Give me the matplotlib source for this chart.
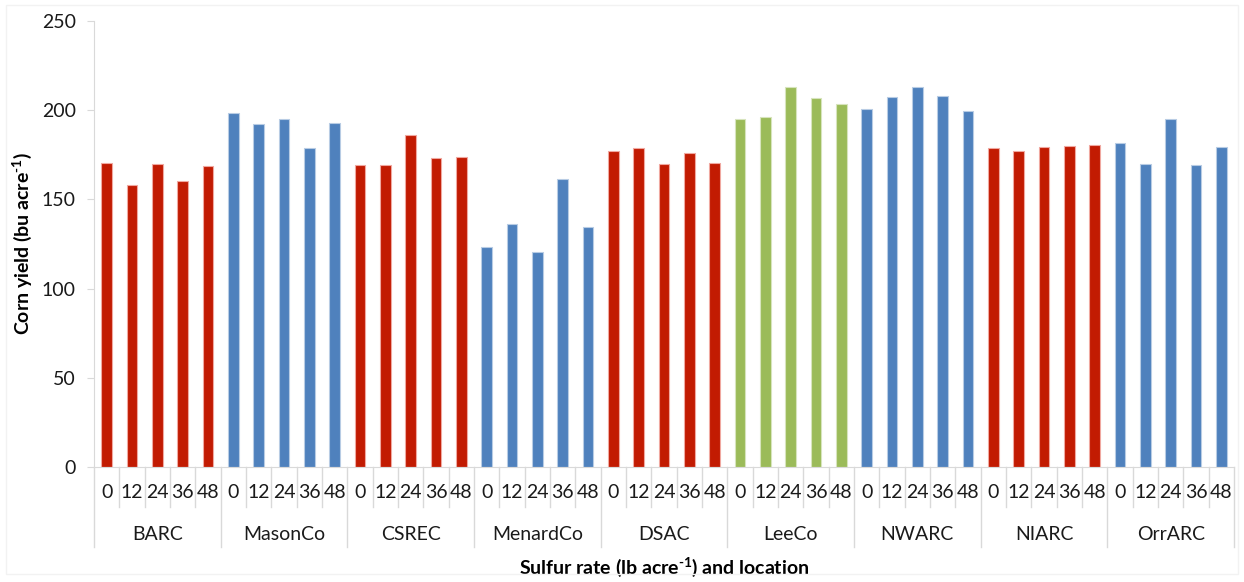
import numpy as np
import matplotlib.pyplot as plt
from matplotlib.patches import Rectangle

plt.rcParams['font.family'] = ['Lato', 'DejaVu Sans']
plt.rcParams['mathtext.fontset'] = 'custom'
plt.rcParams['mathtext.rm'] = 'Lato:bold'
plt.rcParams['mathtext.bf'] = 'Lato:bold'
plt.rcParams['mathtext.default'] = 'rm'

# Standorte, S-Raten und Ertraege (bu/acre)
standorte = ['BARC', 'MasonCo', 'CSREC', 'MenardCo', 'DSAC', 'LeeCo', 'NWARC', 'NIARC', 'OrrARC']
raten = ['0', '12', '24', '36', '48']
farben = ['rot', 'blau', 'rot', 'blau', 'rot', 'gruen', 'blau', 'rot', 'blau']

BARC = [170.6, 157.9, 169.8, 160.1, 168.7]
MasonCo = [198.2, 192.3, 195.1, 178.8, 192.8]
CSREC = [169.5, 169.5, 185.9, 173.0, 173.9]
MenardCo = [123.1, 136.2, 120.3, 161.6, 134.7]
DSAC = [177.3, 178.6, 169.7, 175.8, 170.6]
LeeCo = [194.9, 196.0, 212.8, 206.8, 203.5]
NWARC = [200.9, 207.6, 212.8, 207.8, 199.7]
NIARC = [179.0, 177.0, 179.6, 180.1, 180.3]
OrrARC = [181.8, 170.0, 194.9, 169.1, 179.2]

ertrag = [BARC, MasonCo, CSREC, MenardCo, DSAC, LeeCo, NWARC, NIARC, OrrARC]

farbtabelle = {'rot': '#C21B02', 'blau': '#4F81BD', 'gruen': '#9BBB59'}
kante = {'rot': '#F0A8A0', 'blau': '#B8CCE4', 'gruen': '#D7E4BD'}

figure = plt.figure(figsize=(12.44, 5.82), dpi=100)
ax = figure.add_axes([94/1244, 1 - 467/582, 1140/1244, 446/582])

n_rate = len(raten)
werte = []
cols = []
ecols = []
for i, reihe in enumerate(ertrag):
    werte += reihe
    cols += [farbtabelle[farben[i]]] * n_rate
    ecols += [kante[farben[i]]] * n_rate
x = np.arange(len(werte))
ax.bar(x, werte, width=0.42, color=cols, edgecolor=ecols, linewidth=0.8)

ax.set_xlim(-0.5, len(werte) - 0.5)
ax.set_ylim(0, 250)
ax.set_yticks(np.arange(0, 251, 50))

grau = '#D9D9D9'
for s in ['top', 'right']:
    ax.spines[s].set_visible(False)
ax.spines['left'].set_color(grau)
ax.spines['bottom'].set_color(grau)
ax.tick_params(axis='y', length=5, color=grau, labelsize=14, pad=8, labelcolor='#1a1a1a')

# untere Achse: Raten und Standorte
ax.set_xticks(x)
ax.set_xticklabels(raten * len(standorte))
ax.tick_params(axis='x', length=0, labelsize=14, pad=12, labelcolor='#1a1a1a')

trans = ax.get_xaxis_transform()
kurz = -40 / 446
lang = -80 / 446
for k in range(len(werte) + 1):
    if k % n_rate == 0:
        ax.plot([k - 0.5, k - 0.5], [0, lang], color=grau, lw=1, transform=trans, clip_on=False)
    else:
        ax.plot([k - 0.5, k - 0.5], [0, kurz], color=grau, lw=1, transform=trans, clip_on=False)

for i, name in enumerate(standorte):
    mitte = i * n_rate + (n_rate - 1) / 2
    ax.text(mitte, -67 / 446, name, transform=trans, ha='center', va='center',
            fontsize=14, color='#1a1a1a')

ax.text(-72 / 1140, 0.5, r'Corn yield (bu acre$^{\text{-}1}$)', transform=ax.transAxes,
        rotation=90, ha='center', va='center', fontsize=14, fontweight='bold')
ax.text(0.5, -100 / 446, r'Sulfur rate (lb acre$^{\text{-}1}$) and location', transform=ax.transAxes,
        ha='center', va='center', fontsize=14, fontweight='bold')

# dezenter Rahmen um das Diagramm
figure.patches.append(Rectangle((6/1244, 8/582), 1232/1244, 569/582, transform=figure.transFigure,
                                fill=False, edgecolor='#F2F2F2', lw=1))

figure.savefig('out.png', dpi=100)
